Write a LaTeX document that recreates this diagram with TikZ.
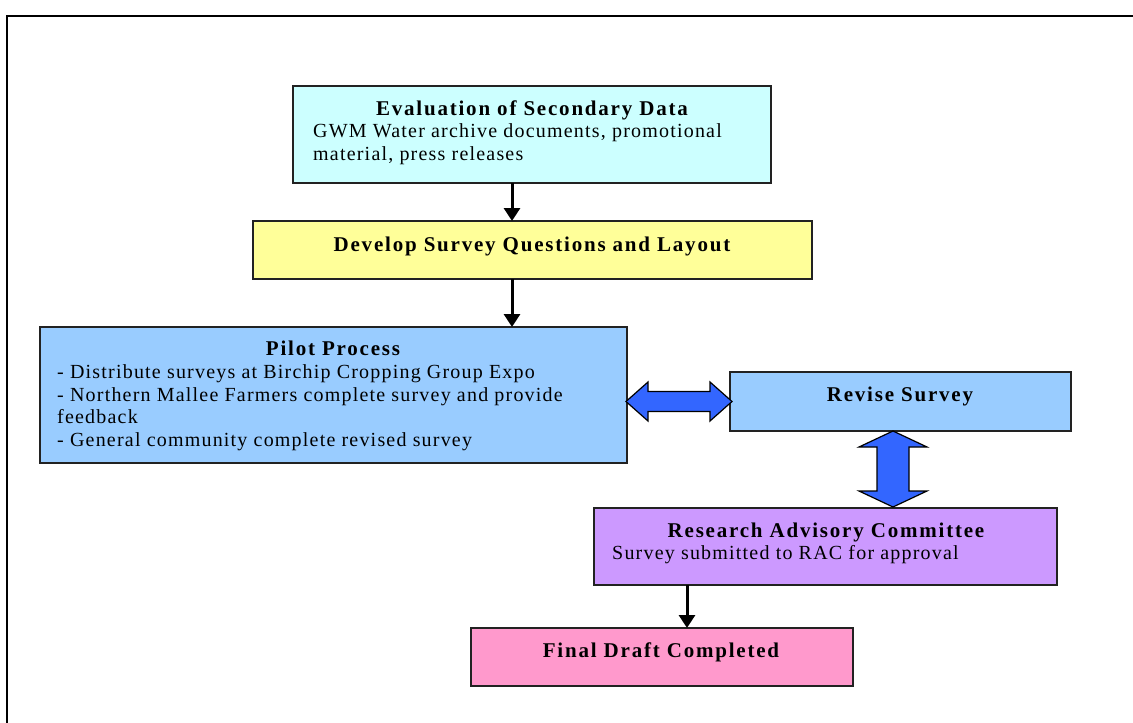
\documentclass[tikz,border=0pt]{standalone}
\usepackage{fontspec}
\setmainfont{Liberation Serif}
\newfontfamily\ttlfont{Liberation Serif}[LetterSpace=8.5]
\newfontfamily\txtfont{Liberation Serif}[LetterSpace=6]
\usetikzlibrary{arrows.meta,calc}
\definecolor{cyanbox}{HTML}{CCFFFF}
\definecolor{yellowbox}{HTML}{FFFF99}
\definecolor{bluebox}{HTML}{99CCFF}
\definecolor{purplebox}{HTML}{CC99FF}
\definecolor{pinkbox}{HTML}{FF99CC}
\definecolor{blockblue}{HTML}{3366FF}
\definecolor{edge}{HTML}{222222}
\begin{document}
\begin{tikzpicture}[x=1pt,y=-1pt,
  box/.style={draw=edge,line width=1.3pt,anchor=north west,inner sep=0pt,outer sep=0pt},
  ttl/.style={font=\ttlfont\fontsize{21}{23}\selectfont\bfseries,anchor=base,inner sep=0pt},
  txt/.style={font=\txtfont\fontsize{20}{22}\selectfont,anchor=base west,inner sep=0pt},
  arr/.style={line width=3pt,-{Triangle[length=13pt,width=16pt]}},
  blockarrow/.style={draw=black,line width=1.2pt,fill=blockblue,line join=miter}]
\useasboundingbox (0,0) rectangle (1133,723);
% outer frame
\draw[line width=2pt] (7,740) -- (7,15.5) -- (1140,15.5);
% boxes
\node[box,fill=cyanbox,minimum width=478pt,minimum height=97pt] (eval) at (293,86) {};
\node[box,fill=yellowbox,minimum width=559pt,minimum height=58pt] (dev) at (253,221) {};
\node[box,fill=bluebox,minimum width=587pt,minimum height=136pt] (pilot) at (40,327) {};
\node[box,fill=bluebox,minimum width=341pt,minimum height=59pt] (revise) at (730,372) {};
\node[box,fill=purplebox,minimum width=463pt,minimum height=77pt] (rac) at (594,508) {};
\node[box,fill=pinkbox,minimum width=382pt,minimum height=58pt] (final) at (471,628) {};
% texts
\node[ttl] (evalt) at (532,115) {Evaluation of Secondary Data};
\node[txt] (evall1) at (313,137.5) {GWM Water archive documents, promotional};
\node[txt] (evall2) at (313,160) {material, press releases};
\node[ttl] (devt) at (532,251) {Develop Survey Questions and Layout};
\node[ttl] (pilott) at (333,355) {Pilot Process};
\node[txt] (pl1) at (57,378) {- Distribute surveys at Birchip Cropping Group Expo};
\node[txt] (pl2) at (57,401) {- Northern Mallee Farmers complete survey and provide};
\node[txt] (pl3) at (57,423) {feedback};
\node[txt] (pl4) at (57,446) {- General community complete revised survey};
\node[ttl] (revt) at (900,401) {Revise Survey};
\node[ttl] (ract) at (826,537) {Research Advisory Committee};
\node[txt] (racl1) at (612,559) {Survey submitted to RAC for approval};
\node[ttl] (finalt) at (661,657) {Final Draft Completed};
% thin arrows
\coordinate (x1) at (512,0);
\coordinate (x2) at (687,0);
\draw[arr] (x1 |- eval.south) -- (x1 |- dev.north);
\draw[arr] (x1 |- dev.south) -- (x1 |- pilot.north);
\draw[arr] (x2 |- rac.south) -- (x2 |- final.north);
% horizontal double block arrow
\coordinate (hl) at ($(pilot.east |- 0,401.5)+(-1,0)$);
\coordinate (hr) at ($(revise.west |- 0,401.5)+(2,0)$);
\draw[blockarrow] (hl) -- ++(22,-19.5) -- ++(0,9.5) -- ($(hr)+(-22,-10)$) -- ++(0,-9.5) -- (hr)
  -- ++(-22,19.5) -- ++(0,-9.5) -- ($(hl)+(22,10)$) -- ++(0,9.5) -- cycle;
% vertical double block arrow
\coordinate (vt) at ($(revise.south -| 893,0)$);
\coordinate (vb) at ($(rac.north -| 893,0)+(0,-1)$);
\draw[blockarrow] (vt) -- ++(34,16) -- ++(-18,0) -- ($(vb)+(16,-16)$) -- ++(18,0) -- (vb)
  -- ++(-34,-16) -- ++(18,0) -- ($(vt)+(-16,16)$) -- ++(-18,0) -- cycle;
\end{tikzpicture}
\end{document}
